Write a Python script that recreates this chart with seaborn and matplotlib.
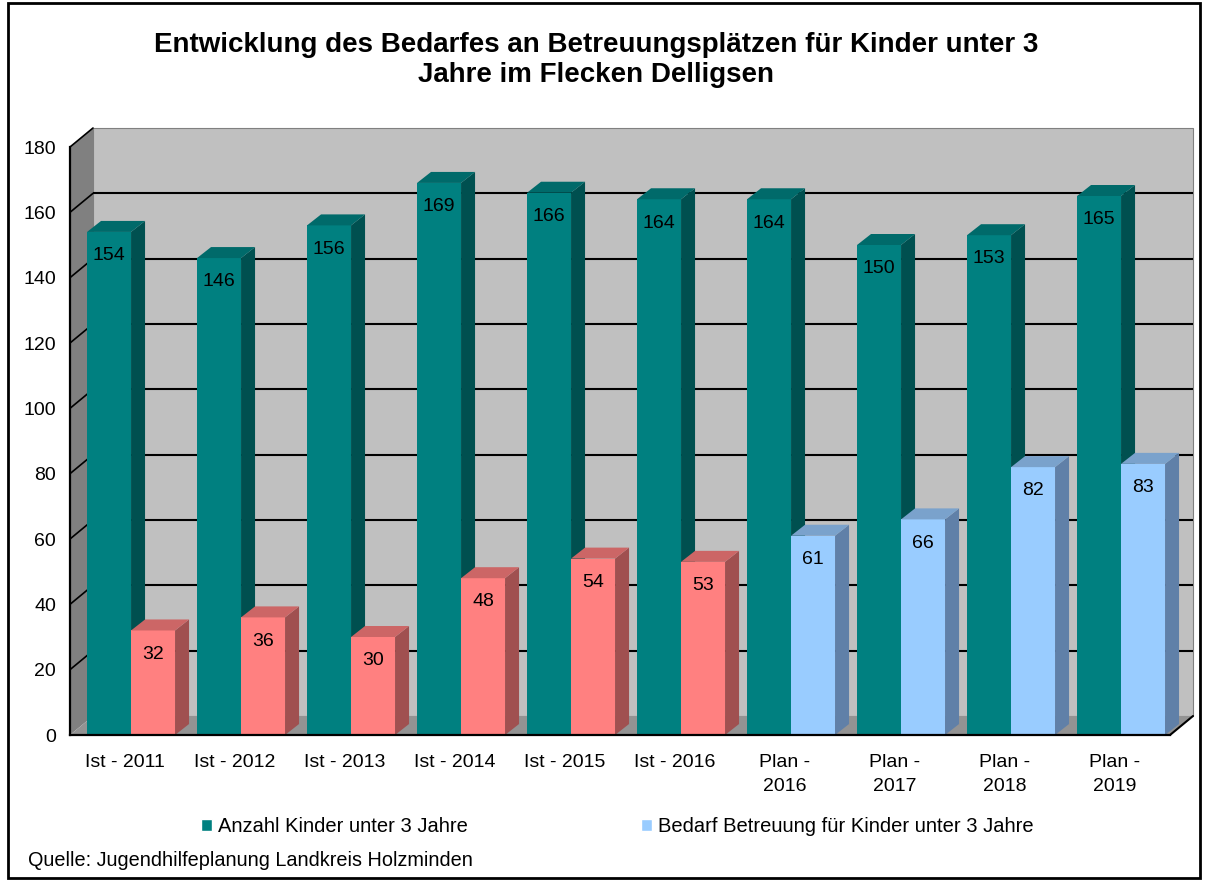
import matplotlib
matplotlib.use("Agg")
import matplotlib.pyplot as plt
import matplotlib.transforms as mtransforms
from matplotlib.patches import Polygon, Rectangle
from matplotlib.lines import Line2D
import numpy as np
import pandas as pd
import seaborn as sns

# data
kategorien = ['Ist - 2011', 'Ist - 2012', 'Ist - 2013', 'Ist - 2014', 'Ist - 2015',
              'Ist - 2016', 'Plan -\n2016', 'Plan -\n2017', 'Plan -\n2018', 'Plan -\n2019']
anzahl = [154, 146, 156, 169, 166, 164, 164, 150, 153, 165]
bedarf = [32, 36, 30, 48, 54, 53, 61, 66, 82, 83]
serien = ['Anzahl Kinder unter 3 Jahre', 'Bedarf Betreuung für Kinder unter 3 Jahre']
yticks = [0, 20, 40, 60, 80, 100, 120, 140, 160, 180]

df = pd.DataFrame({
    'kategorie': kategorien * 2,
    'serie': [serien[0]] * len(kategorien) + [serien[1]] * len(kategorien),
    'wert': anzahl + bedarf,
})

sns.set_style('white')
plt.rcParams['font.family'] = ['Liberation Sans', 'DejaVu Sans']
plt.rcParams['text.color'] = 'black'
plt.rcParams['xtick.color'] = 'black'
plt.rcParams['ytick.color'] = 'black'
plt.rcParams['axes.labelcolor'] = 'black'

teal = ('#008080', '#005050', '#006a6a')
rosa = ('#ff8080', '#a05050', '#cc6666')
blau = ('#99ccff', '#6080a8', '#7aa2cc')

fig = plt.figure(figsize=(12.08, 8.81), dpi=100)
ax = fig.add_axes([70 / 1208, 146 / 881, 1100 / 1208, 588 / 881])

sns.barplot(data=df, x='kategorie', y='wert', hue='serie', width=0.8,
            palette=[teal[0], blau[0]], saturation=1, ax=ax, zorder=2)
ax.set_xlim(-0.5, 9.5)
ax.set_ylim(0, 180)

IDT = mtransforms.IdentityTransform()
def px(x, y):
    return ax.transData.transform((x, y))

wdx, wdy = 23, 19   # depth of the walls (pixels)
bdx, bdy = 14, 11   # depth of the bars (pixels)
shift = 0.055       # bars sit a little to the right, as in the 3D original

# back wall, side wall, floor
wall = mtransforms.offset_copy(ax.transData, fig=fig, x=wdx, y=wdy, units='dots')
ax.add_patch(Rectangle((-0.5, 0), 10, 180, transform=wall, facecolor='#c0c0c0',
                       edgecolor='#808080', lw=0.8, zorder=0.1, clip_on=False))
a, b = px(-0.5, 0), px(-0.5, 180)
ax.add_patch(Polygon([a, b, b + (wdx, wdy), a + (wdx, wdy)], transform=IDT,
                     facecolor='#808080', edgecolor='none', zorder=0.2, clip_on=False))
c, d = px(-0.5, 0), px(9.5, 0)
ax.add_patch(Polygon([c, d, d + (wdx, wdy), c + (wdx, wdy)], transform=IDT,
                     facecolor='#939393', edgecolor='none', zorder=0.2, clip_on=False))
ax.add_line(Line2D([d[0], d[0] + wdx], [d[1], d[1] + wdy], transform=IDT,
                   color='black', lw=1.5, zorder=0.5, clip_on=False))

# gridlines on the back wall and the side wall
ax.hlines(yticks[1:-1], -0.5, 9.5, transform=wall, colors='black', lw=1.5,
          zorder=0.6, clip_on=False)
for yv in yticks[1:]:
    p = px(-0.5, yv)
    ax.add_line(Line2D([p[0], p[0] + wdx], [p[1], p[1] + wdy], transform=IDT,
                       color='black', lw=1.2, zorder=0.6, clip_on=False))

# 3D faces for the bars
for k, cont in enumerate(ax.containers):
    for i, bar in enumerate(cont):
        if k == 0:
            farben = teal
        elif kategorien[i].startswith('Ist'):
            farben = rosa
        else:
            farben = blau
        z = 2 + k
        bar.set_x(bar.get_x() + shift)
        bar.set_facecolor(farben[0])
        bar.set_edgecolor('none')
        bar.set_zorder(z)
        x0, x1 = bar.get_x(), bar.get_x() + bar.get_width()
        h = bar.get_height()
        p0, p1, p2, p3 = px(x1, 0), px(x1, h), px(x0, h), px(x1, h)
        ax.add_patch(Polygon([p0, p1, p1 + (bdx, bdy), p0 + (bdx, bdy)], transform=IDT,
                             facecolor=farben[1], edgecolor='none', zorder=z, clip_on=False))
        ax.add_patch(Polygon([p2, p3, p3 + (bdx, bdy), p2 + (bdx, bdy)], transform=IDT,
                             facecolor=farben[2], edgecolor='none', zorder=z, clip_on=False))
        ax.annotate(f'{h:.0f}', ((x0 + x1) / 2, h), xytext=(0, -11), textcoords='offset points',
                    ha='center', va='top', fontsize=14, color='black', zorder=6)

# axes styling
for s in ['top', 'right']:
    ax.spines[s].set_visible(False)
for s in ['left', 'bottom']:
    ax.spines[s].set_linewidth(1.6)
    ax.spines[s].set_color('black')
    ax.spines[s].set_zorder(5)
ax.set_facecolor('none')
ax.set_yticks(yticks)
ax.tick_params(axis='y', direction='out', length=6, width=1.5, labelsize=14, pad=4)
ax.set_xticks(np.arange(len(kategorien)))
ax.set_xticklabels(kategorien, fontsize=14, linespacing=1.5)
ax.set_xticks(np.arange(-0.5, len(kategorien), 1), minor=True)
ax.tick_params(axis='x', which='major', length=0, pad=14)
ax.tick_params(axis='x', which='minor', direction='out', length=6, width=1.5)
ax.set_xlabel('')
ax.set_ylabel('')

handles, labels = ax.get_legend_handles_labels()
ax.legend(handles, labels, loc='center', bbox_to_anchor=(0.511, 0.062),
          bbox_transform=fig.transFigure, ncol=2, frameon=False, fontsize=14.5,
          handlelength=0.55, handleheight=0.55, handletextpad=0.3, columnspacing=8.6)

fig.text(0.4935, 0.932, 'Entwicklung des Bedarfes an Betreuungsplätzen für Kinder unter 3\nJahre im Flecken Delligsen',
         ha='center', va='center', fontsize=20, fontweight='bold', linespacing=1.2)
fig.text(0.0232, 0.0238, 'Quelle: Jugendhilfeplanung Landkreis Holzminden',
         ha='left', va='center', fontsize=14.3)

fig.add_artist(Rectangle((8 / 1208, 3 / 881), 1192 / 1208, 875 / 881, transform=fig.transFigure,
                         fill=False, edgecolor='black', lw=2))

fig.savefig('out.png', dpi=100)
